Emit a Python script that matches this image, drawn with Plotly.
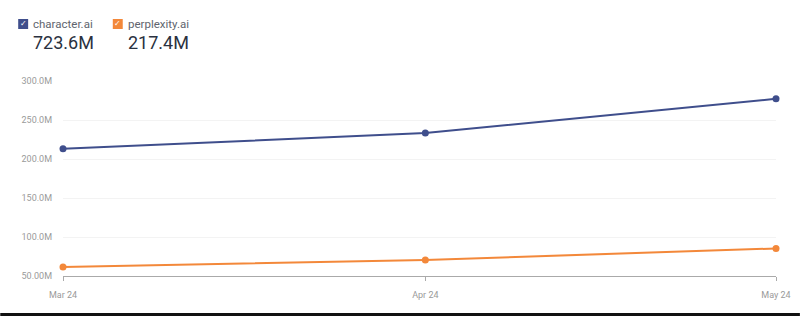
import plotly.graph_objects as go

months = ["Mar 24", "Apr 24", "May 24"]
month_dates = ["2024-03-01", "2024-04-01", "2024-05-01"]
character_ai = [213.0e6, 233.4e6, 277.2e6]
perplexity_ai = [61.5e6, 70.6e6, 85.3e6]
series_names = ["character.ai", "perplexity.ai"]
series_totals = ["723.6M", "217.4M"]
ytick_vals = [50e6, 100e6, 150e6, 200e6, 250e6, 300e6]
ytick_text = ["50.00M", "100.0M", "150.0M", "200.0M", "250.0M", "300.0M"]

BLUE = "#3f4e8c"
ORANGE = "#f3883a"

W, H = 803, 316
L, R, T, B = 63, 24, 81, 40
pw, ph = W - L - R, H - T - B

def px(x):
    return (x - L) / pw

def py(y):
    return (H - B - y) / ph

fig = go.Figure()
fig.add_trace(go.Scatter(x=month_dates, y=character_ai, mode="lines+markers", name=series_names[0],
                         line=dict(color=BLUE, width=2), marker=dict(size=7, color=BLUE),
                         cliponaxis=False))
fig.add_trace(go.Scatter(x=month_dates, y=perplexity_ai, mode="lines+markers", name=series_names[1],
                         line=dict(color=ORANGE, width=2), marker=dict(size=7, color=ORANGE),
                         cliponaxis=False))

shapes = []
annotations = []
colors = [BLUE, ORANGE]
xs = [18, 113]
for i in range(2):
    x0 = xs[i]
    shapes.append(dict(type="rect", xref="paper", yref="paper",
                       x0=px(x0), x1=px(x0 + 10), y0=py(29), y1=py(19),
                       fillcolor=colors[i], line=dict(width=0), layer="above"))
    annotations.append(dict(xref="paper", yref="paper", x=px(x0 + 5), y=py(24), text="✓",
                            showarrow=False, font=dict(size=8, color="white", family="DejaVu Sans"),
                            xanchor="center", yanchor="middle"))
    annotations.append(dict(xref="paper", yref="paper", x=px(x0 + 13), y=py(24), text=series_names[i],
                            showarrow=False, font=dict(size=11.5, color="#60646e", family="Roboto"),
                            xanchor="left", yanchor="middle"))
    annotations.append(dict(xref="paper", yref="paper", x=px(x0 + 13), y=py(42), text=series_totals[i],
                            showarrow=False, font=dict(size=18, color="#2a3140", family="Roboto"),
                            xanchor="left", yanchor="middle"))

shapes.append(dict(type="rect", xref="paper", yref="paper", x0=px(0), x1=px(W), y0=py(313), y1=py(316.5),
                   fillcolor="#111111", line=dict(width=0)))

fig.update_layout(
    width=W, height=H,
    margin=dict(l=L, r=R, t=T, b=B),
    paper_bgcolor="white", plot_bgcolor="white",
    showlegend=False,
    shapes=shapes, annotations=annotations,
    font=dict(family="Roboto", color="#9a9a9a", size=9),
)
fig.update_xaxes(type="date", range=[month_dates[0], month_dates[-1]], tickvals=month_dates, ticktext=months,
                 showgrid=False, showline=True, linecolor="#aaaaaa",
                 linewidth=1, ticks="outside", ticklen=4, tickcolor="#aaaaaa",
                 ticklabelstandoff=6, tickfont=dict(size=9, color="#9a9a9a"), zeroline=False)
fig.update_yaxes(range=[50e6, 300e6], tickvals=ytick_vals, ticktext=ytick_text, showgrid=True,
                 gridcolor="#f3f3f3", gridwidth=1, zeroline=False, showline=False, ticks="",
                 ticklabelstandoff=10, tickfont=dict(size=9, color="#9a9a9a"))

fig.write_html("out.html")
